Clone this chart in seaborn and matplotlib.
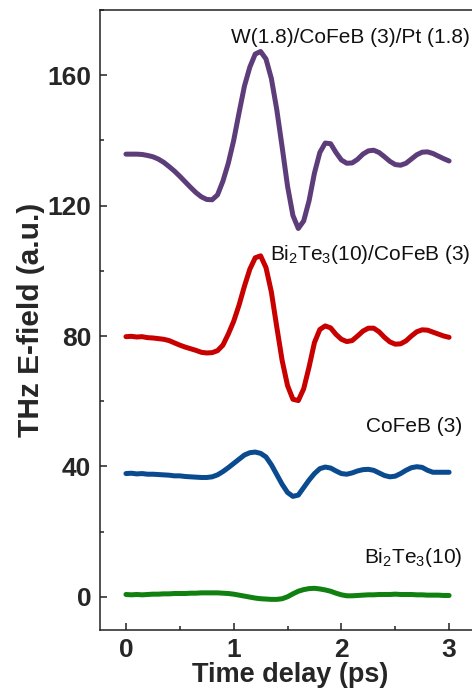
import numpy as np
import pandas as pd
import matplotlib
matplotlib.use("Agg")
import matplotlib.pyplot as plt
import seaborn as sns
from matplotlib.ticker import MultipleLocator

# time axis (ps), one sample every 0.05 ps
time_ps = np.round(np.arange(0, 3.0001, 0.05), 2)

# W(1.8)/CoFeB(3)/Pt(1.8), offset trace
w_cofeb_pt = [135.8, 135.8, 135.8, 135.7, 135.4, 135.0, 134.3, 133.3, 132.0, 130.6,
              129.0, 127.3, 125.6, 124.0, 122.7, 121.9, 121.8, 123.3, 127.5, 133.0,
              140.0, 148.5, 156.7, 162.5, 166.5, 167.3, 165.0, 159.0, 149.5, 138.0,
              126.0, 117.0, 113.0, 115.3, 121.5, 130.0, 136.3, 139.2, 139.0, 136.3,
              134.0, 133.0, 133.1, 134.2, 135.8, 136.8, 137.0, 136.3, 135.0, 133.6,
              132.6, 132.4, 133.0, 134.3, 135.6, 136.4, 136.5, 136.0, 135.2, 134.4,
              133.7]

# Bi2Te3(10)/CoFeB(3)
bite_cofeb = [79.8, 79.9, 79.7, 79.8, 79.5, 79.4, 79.2, 79.0, 78.6, 77.9,
              77.2, 76.6, 76.1, 75.6, 75.0, 74.8, 74.9, 75.5, 77.2, 80.6,
              84.5, 89.5, 95.3, 100.5, 104.0, 104.6, 101.0, 93.5, 82.8, 72.5,
              64.8, 60.6, 60.2, 63.8, 70.5, 78.0, 82.0, 83.1, 82.5, 80.5,
              79.0, 78.3, 78.6, 80.0, 81.5, 82.4, 82.4, 81.3, 79.6, 78.2,
              77.5, 77.6, 78.5, 80.0, 81.3, 81.9, 81.8, 81.2, 80.6, 80.0,
              79.6]

# CoFeB(3)
cofeb = [37.8, 37.9, 37.7, 37.8, 37.6, 37.6, 37.5, 37.4, 37.3, 37.1,
         37.1, 36.9, 36.8, 36.7, 36.6, 36.6, 36.8, 37.4, 38.4, 39.6,
         40.9, 42.2, 43.5, 44.2, 44.4, 44.0, 42.9, 40.5, 37.5, 34.5,
         32.0, 30.8, 31.2, 33.5, 35.8, 37.8, 39.3, 39.8, 39.5, 38.6,
         37.8, 37.6, 38.0, 38.6, 39.0, 39.1, 38.8, 38.0, 37.2, 36.8,
         37.0, 37.8, 38.8, 39.6, 39.9, 39.7, 38.8, 38.2, 38.2, 38.2,
         38.2]

# Bi2Te3(10)
bite = [0.7, 0.6, 0.7, 0.6, 0.7, 0.8, 0.8, 0.9, 0.9, 1.0,
        1.0, 1.0, 1.1, 1.1, 1.2, 1.2, 1.2, 1.2, 1.1, 1.0,
        0.8, 0.5, 0.2, -0.1, -0.4, -0.6, -0.7, -0.8, -0.8, -0.6,
        0.0, 0.9, 1.7, 2.2, 2.5, 2.6, 2.4, 2.1, 1.7, 1.1,
        0.6, 0.3, 0.3, 0.4, 0.5, 0.6, 0.6, 0.7, 0.7, 0.7,
        0.8, 0.7, 0.7, 0.7, 0.6, 0.6, 0.5, 0.5, 0.5, 0.4,
        0.4]

series = [w_cofeb_pt, bite_cofeb, cofeb, bite]
colors = ["#5c3d7a", "#c80000", "#0a4a8f", "#108010"]
labels = ["W(1.8)/CoFeB (3)/Pt (1.8)", "Bi$_2$Te$_3$(10)/CoFeB (3)",
          "CoFeB (3)", "Bi$_2$Te$_3$(10)"]
label_pos = [(3.195, 170.0), (3.195, 103.3), (3.125, 50.6), (3.125, 10.4)]

sns.set_style("ticks")
plt.rcParams["font.family"] = ["Liberation Sans", "DejaVu Sans"]
plt.rcParams["mathtext.fontset"] = "custom"
plt.rcParams["mathtext.rm"] = "Liberation Sans"
plt.rcParams["mathtext.it"] = "Liberation Sans"
plt.rcParams["mathtext.default"] = "regular"

fig = plt.figure(figsize=(4.72, 6.95), dpi=100)
ax = fig.add_axes([0.2112, 0.0935, 0.8087, 0.892])

for vals, col in zip(series, colors):
    sns.lineplot(x=time_ps, y=vals, color=col, linewidth=3.6, ax=ax,
                 solid_joinstyle="round", solid_capstyle="round")

for lab, (tx, ty) in zip(labels, label_pos):
    ax.text(tx, ty, lab, ha="right", va="baseline", fontsize=15, color="#111111")

ax.set_xlim(-0.244, 3.3)
ax.set_ylim(-10.2, 180)
ax.xaxis.set_major_locator(MultipleLocator(1))
ax.xaxis.set_minor_locator(MultipleLocator(0.5))
ax.yaxis.set_major_locator(MultipleLocator(40))
ax.yaxis.set_minor_locator(MultipleLocator(20))
ax.tick_params(which="major", direction="in", length=5, width=1.1, color="#222222",
               labelsize=19, pad=6)
ax.tick_params(which="minor", direction="in", length=3, width=1.1, color="#222222")
for lbl in ax.get_xticklabels() + ax.get_yticklabels():
    lbl.set_fontweight("bold")
for sp in ax.spines.values():
    sp.set_linewidth(1.1)
    sp.set_color("#222222")

ax.set_xlabel("Time delay (ps)", fontsize=19.5, fontweight="bold", labelpad=0)
ax.set_ylabel("THz E-field (a.u.)", fontsize=21.5, fontweight="bold", labelpad=2)

fig.savefig("out.png", dpi=100)
